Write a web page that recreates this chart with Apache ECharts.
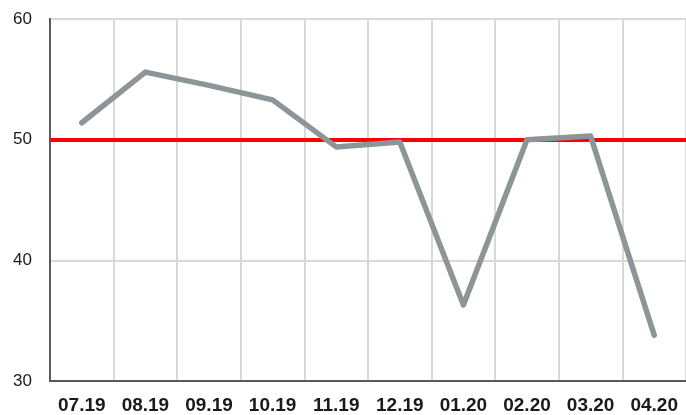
<!DOCTYPE html>
<html>
<head>
<meta charset="utf-8">
<script src="https://cdn.jsdelivr.net/npm/echarts@6/dist/echarts.min.js"></script>
<style>
  html, body { margin: 0; padding: 0; background: #fff; }
  #chart { width: 686px; height: 415px; }
</style>
</head>
<body>
<div id="chart"></div>
<script>
// month labels (MM.YY)
var months = ['07.19', '08.19', '09.19', '10.19', '11.19', '12.19', '01.20', '02.20', '03.20', '04.20']
// monthly values
var values = [51.4, 55.6, 54.5, 53.3, 49.4, 49.8, 36.3, 50.0, 50.3, 33.8]
// reference level (red line)
var target = 50

var chart = echarts.init(document.getElementById('chart'))
chart.setOption({
  animation: false,
  grid: {
    left: 50,
    right: -4,
    top: 19,
    bottom: 32,
    show: true,
    borderColor: '#5a5a5a',
    borderWidth: 2
  },
  xAxis: {
    type: 'category',
    data: months,
    boundaryGap: true,
    axisLine: { show: true, lineStyle: { color: '#5a5a5a', width: 2 } },
    axisTick: { show: false },
    axisLabel: {
      color: '#1a1a1a',
      fontFamily: 'Liberation Sans, Arial',
      fontWeight: 'bold',
      fontSize: 19,
      margin: 15,
      interval: 0
    },
    splitLine: { show: true, lineStyle: { color: '#d9d9d9', width: 2 } }
  },
  yAxis: {
    type: 'value',
    min: 30,
    max: 60,
    interval: 10,
    axisLine: { show: true, lineStyle: { color: '#5a5a5a', width: 2 } },
    axisTick: { show: false },
    axisLabel: {
      color: '#1a1a1a',
      fontFamily: 'Liberation Sans, Arial',
      fontSize: 17,
      margin: 18
    },
    splitLine: { show: true, lineStyle: { color: '#d9d9d9', width: 2 } }
  },
  series: [
    {
      type: 'line',
      data: values,
      symbol: 'none',
      lineStyle: { color: '#8d9599', width: 5.5, cap: 'round', join: 'round' },
      z: 3,
      markLine: {
        silent: true,
        symbol: 'none',
        label: { show: false },
        lineStyle: { color: '#ff0000', width: 4, type: 'solid' },
        data: [{ yAxis: target }],
        z: 2
      }
    }
  ]
})
</script>
</body>
</html>
